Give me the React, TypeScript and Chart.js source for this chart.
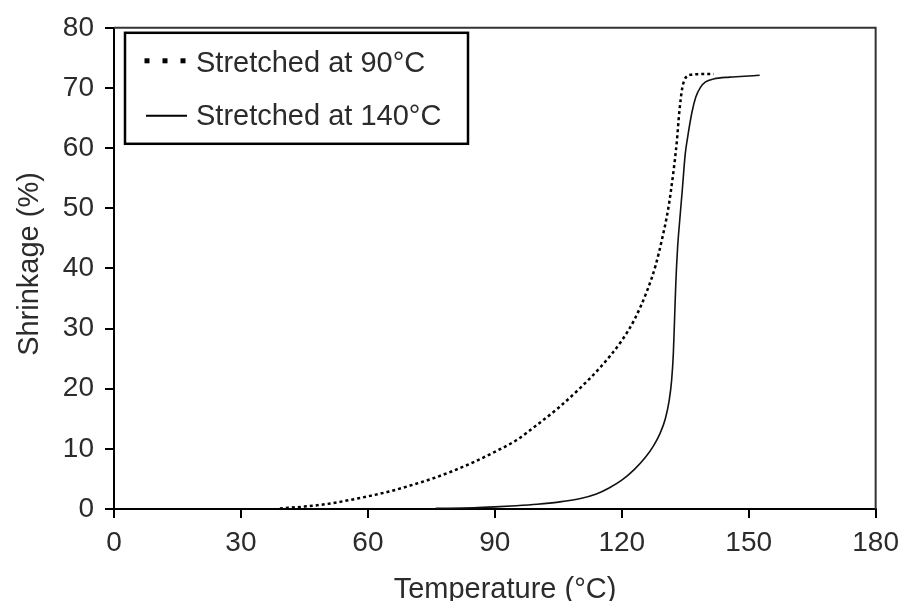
import React, { useEffect, useRef } from "react";
import { Chart, registerables } from "chart.js";

Chart.register(...registerables);

// ---- data ----
const xTickValues = [0, 30, 60, 90, 120, 150, 180];
const yTickValues = [0, 10, 20, 30, 40, 50, 60, 70, 80];

const legendLabels = ["Stretched at 90°C", "Stretched at 140°C"];
const xAxisTitle = "Temperature (°C)";
const yAxisTitle = "Shrinkage (%)";

// Stretched at 90°C (dotted)
const temp90 = [39.2, 45, 50, 55, 60, 65, 70, 75, 80, 85, 90, 95, 100, 105, 110, 115, 120, 123, 126, 128, 129.5, 131, 132.2, 133, 133.6, 134.3, 135.2, 136.5, 139, 141.7];
const shrink90 = [0.1, 0.4, 0.8, 1.4, 2.1, 2.9, 3.9, 5.0, 6.3, 7.8, 9.5, 11.4, 14.0, 16.8, 20.0, 23.6, 28.0, 31.5, 36.3, 40.5, 44.8, 50, 56, 61, 66, 70, 71.8, 72.2, 72.3, 72.3];

// Stretched at 140°C (solid)
const temp140 = [76, 85, 90, 95, 100, 105, 110, 114, 117, 120, 123, 125.5, 127.5, 129, 130.3, 131.2, 131.8, 132.2, 132.5, 132.8, 133.2, 133.7, 134.3, 135, 135.5, 136.6, 137.5, 138.6, 139.8, 141.7, 145.5, 148, 152.6];
const shrink140 = [0.1, 0.2, 0.35, 0.55, 0.8, 1.15, 1.7, 2.5, 3.5, 4.8, 6.6, 8.5, 10.5, 12.5, 15, 18, 21.5, 26, 32, 38, 43.5, 48, 53, 59, 61.5, 66, 68.5, 70.1, 71, 71.5, 71.8, 71.9, 72.1];

const FONT = "'Liberation Sans', Arial, Helvetica, sans-serif";
const TEXT_COLOR = "#2b2b2b";

const overlayPlugin = {
  id: "overlay",
  afterDraw(chart: any) {
    const { ctx, chartArea } = chart;
    const { left, right, top, bottom } = chartArea;
    ctx.save();
    // frame top & right
    ctx.strokeStyle = "#333";
    ctx.lineWidth = 2;
    ctx.beginPath();
    ctx.moveTo(left, top);
    ctx.lineTo(right, top);
    ctx.lineTo(right, bottom);
    ctx.stroke();

    // legend box
    const bx = left + 11, by = top + 5, bw = 343, bh = 111;
    ctx.fillStyle = "#fff";
    ctx.fillRect(bx, by, bw, bh);
    ctx.strokeStyle = "#000";
    ctx.lineWidth = 2.5;
    ctx.strokeRect(bx, by, bw, bh);

    // dotted sample
    ctx.fillStyle = "#000";
    const r1y = by + 28;
    [bx + 22, bx + 40, bx + 58].forEach((cx) => {
      ctx.fillRect(cx - 2.5, r1y - 2.5, 5, 5);
    });
    // solid sample
    const r2y = by + 83;
    ctx.strokeStyle = "#000";
    ctx.lineWidth = 2;
    ctx.beginPath();
    ctx.moveTo(bx + 21, r2y);
    ctx.lineTo(bx + 62, r2y);
    ctx.stroke();

    ctx.fillStyle = TEXT_COLOR;
    ctx.font = `29px ${FONT}`;
    ctx.textAlign = "left";
    ctx.textBaseline = "alphabetic";
    ctx.fillText(legendLabels[0], bx + 71, by + 39);
    ctx.fillText(legendLabels[1], bx + 71, by + 92);

    // axis titles
    ctx.textAlign = "center";
    ctx.fillText(xAxisTitle, 505, 598);
    ctx.translate(38, 264);
    ctx.rotate(-Math.PI / 2);
    ctx.fillText(yAxisTitle, 0, 0);
    ctx.restore();
  },
};

export default function App() {
  const ref = useRef<HTMLCanvasElement | null>(null);

  useEffect(() => {
    if (!ref.current) return;
    const d90 = temp90.map((x, i) => ({ x, y: shrink90[i] }));
    const d140 = temp140.map((x, i) => ({ x, y: shrink140[i] }));
    const tickFont = { family: FONT, size: 28 };
    const chart = new Chart(ref.current, {
      type: "line",
      data: {
        datasets: [
          {
            label: legendLabels[0],
            data: d90,
            borderColor: "#000",
            borderWidth: 2.5,
            borderDash: [3, 3],
            pointRadius: 0,
            fill: false,
            cubicInterpolationMode: "monotone",
          },
          {
            label: legendLabels[1],
            data: d140,
            borderColor: "#111",
            borderWidth: 1.6,
            pointRadius: 0,
            fill: false,
            cubicInterpolationMode: "monotone",
          },
        ],
      },
      options: {
        responsive: false,
        animation: false,
        devicePixelRatio: 1,
        layout: { padding: { left: 0, top: 27, right: 28, bottom: 0 } },
        plugins: { legend: { display: false }, tooltip: { enabled: false } },
        scales: {
          x: {
            type: "linear",
            min: 0,
            max: 180,
            afterBuildTicks: (s: any) => {
              s.ticks = xTickValues.map((v) => ({ value: v }));
            },
            afterFit: (s: any) => {
              s.height = 92;
            },
            ticks: { font: tickFont, color: TEXT_COLOR, padding: 8, maxRotation: 0, autoSkip: false },
            grid: { drawOnChartArea: false, drawTicks: true, tickLength: 9, color: "#000", lineWidth: 2 },
            border: { display: true, color: "#000", width: 2 },
          },
          y: {
            type: "linear",
            min: 0,
            max: 80,
            afterBuildTicks: (s: any) => {
              s.ticks = yTickValues.map((v) => ({ value: v }));
            },
            afterFit: (s: any) => {
              s.width = 114;
            },
            ticks: { font: tickFont, color: TEXT_COLOR, padding: 11, autoSkip: false },
            grid: { drawOnChartArea: false, drawTicks: true, tickLength: 9, color: "#000", lineWidth: 2 },
            border: { display: true, color: "#000", width: 2 },
          },
        },
      },
      plugins: [overlayPlugin],
    } as any);
    return () => chart.destroy();
  }, []);

  return (
    <div style={{ position: "absolute", left: 0, top: 0, width: 907, height: 601, background: "#fff" }}>
      <canvas ref={ref} width={907} height={601} style={{ display: "block", width: 907, height: 601 }} />
    </div>
  );
}
